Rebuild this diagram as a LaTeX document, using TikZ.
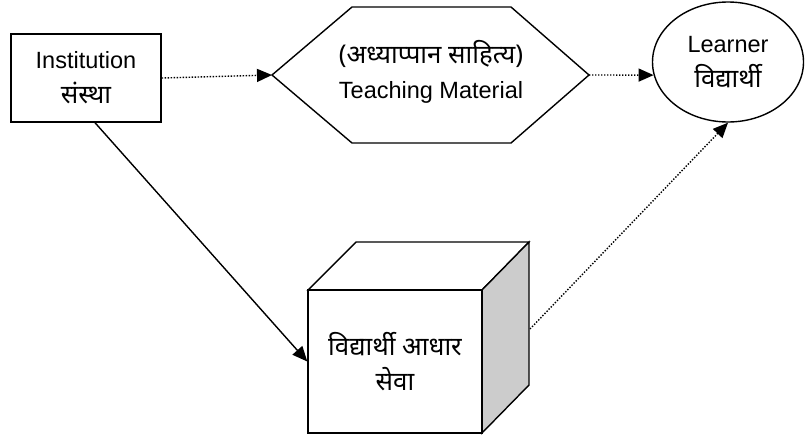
\documentclass[tikz,border=0pt]{standalone}
\usepackage{fontspec}
\setmainfont{Liberation Sans}
\newfontfamily\deva[Script=Devanagari,Scale=1.1]{Noto Sans}
\usetikzlibrary{arrows.meta,shapes.geometric}
\tikzset{
  shape line/.style={draw=black, line width=1.4pt},
  txt/.style={align=center, font=\fontsize{23.5}{35}\selectfont},
  tip/.style={-{Triangle[length=15pt,width=13pt]}},
  dotline/.style={line width=1.4pt, dash pattern=on 1.4pt off 1.6pt, tip},
  solidline/.style={line width=1.4pt, tip}
}
\begin{document}
\begin{tikzpicture}[x=1pt,y=-1pt]
\useasboundingbox (0,0) rectangle (805,437);
% institution
\node[shape line, txt, minimum width=150pt, minimum height=88pt, inner sep=0pt] (inst) at (86,78)
  {Institution\\{\deva संस्था}};
% hexagon
\coordinate (hexL) at (272,75);
\coordinate (hexR) at (589,75);
\draw[shape line, line join=miter] (hexL) -- (352,7) -- (511,7) -- (hexR) -- (511,143) -- (352,143) -- cycle;
\node[txt] (tm) at (431,72) {{\deva (अध्याप्पान साहित्य)}\\Teaching Material};
% learner
\node[shape line, ellipse, txt, minimum width=151pt, minimum height=120pt, inner sep=0pt] (lrn) at (728,62)
  {Learner\\{\deva विद्यार्थी}};
% cube
\draw[shape line, fill=white, line join=miter] (308,290) -- (356,242) -- (529,242) -- (482,290) -- cycle;
\draw[shape line, fill=gray!40, line join=miter] (482,290) -- (529,242) -- (529,385) -- (482,433) -- cycle;
\node[shape line, fill=white, txt, minimum width=174pt, minimum height=143pt, inner sep=0pt] (svc) at (395,361.5)
  {{\deva विद्यार्थी आधार}\\{\deva सेवा}};
\coordinate (svcR) at (530,329);
% connectors
\draw[dotline] (inst.east) -- (hexL);
\draw[dotline] (hexR) -- (lrn.190);
\draw[dotline] (svcR) -- (lrn.south);
\draw[solidline] ([xshift=9pt]inst.south) -- (svc.west);
\end{tikzpicture}
\end{document}
